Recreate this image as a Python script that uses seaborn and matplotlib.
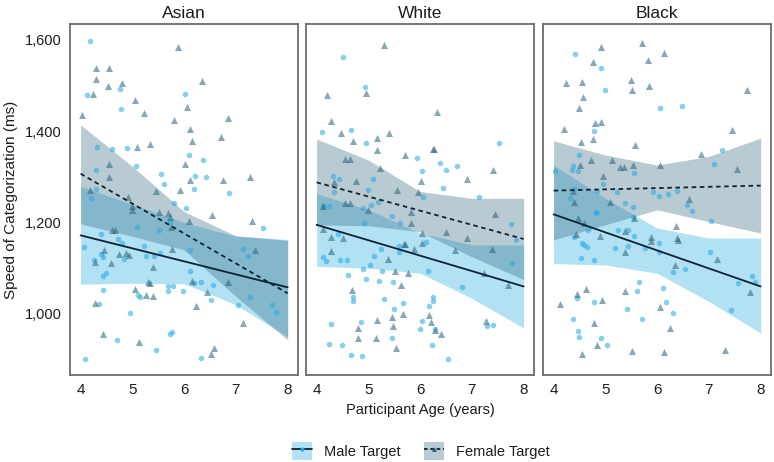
import pandas as pd
import matplotlib
matplotlib.use("Agg")
import matplotlib.pyplot as plt
from matplotlib import font_manager
from matplotlib.patches import Patch
from matplotlib.lines import Line2D
from matplotlib.ticker import FuncFormatter
import seaborn as sns

# ---- data (age in years, speed in ms) ----
panels = ["Asian", "White", "Black"]

asian_male_age = [4.18, 4.13, 4.76, 4.78, 4.31, 4.60, 4.89, 5.07, 4.29, 5.55, 5.62, 4.30, 4.20, 6.01, 6.09,
                  6.36, 6.21, 6.43, 6.20, 6.87, 6.03, 5.80, 5.08, 5.51, 5.72, 7.52, 4.39, 4.73, 4.80, 4.07,
                  4.26, 4.39, 4.43, 4.49, 4.44, 4.44, 4.36, 4.84, 4.95, 5.11, 5.15, 5.23, 5.26, 5.42, 5.54,
                  4.71, 4.09, 5.46, 5.68, 5.69, 5.79, 5.73, 5.76, 5.98, 6.11, 6.12, 6.32, 6.19, 6.56, 6.51,
                  6.32, 7.04, 7.14, 7.23, 7.28, 7.70, 7.77]
asian_male_ms = [1597, 1480, 1492, 1449, 1366, 1362, 1364, 1323, 1315, 1307, 1285, 1274, 1254, 1482, 1348,
                 1337, 1301, 1300, 1273, 1264, 1231, 1242, 1191, 1184, 1202, 1188, 1175, 1165, 1156, 1147,
                 1117, 1131, 1124, 1089, 1082, 1052, 1022, 1121, 1001, 1041, 1036, 1149, 1127, 1126, 1133,
                 943, 902, 920, 1061, 1050, 1061, 955, 961, 1049, 1094, 1140, 1069, 1067, 1064, 1030,
                 904, 1020, 1143, 1126, 1036, 1020, 1004]
asian_female_age = [4.02, 4.23, 4.30, 4.29, 4.55, 4.52, 4.79, 5.05, 5.22, 5.09, 5.35, 5.89, 6.34, 6.05, 5.81,
                    6.12, 6.15, 6.85, 6.71, 6.02, 6.12, 5.92, 6.76, 7.28, 4.54, 4.55, 4.19, 5.45, 4.92, 4.99,
                    5.00, 5.51, 5.69, 5.72, 6.09, 6.53, 7.32, 5.74, 4.60, 4.66, 4.28, 4.46, 4.59, 4.75, 4.87,
                    4.93, 5.40, 5.77, 4.28, 5.05, 5.26, 5.31, 5.35, 5.40, 4.44, 5.13, 6.16, 6.23, 6.45, 6.84,
                    7.37, 7.14, 6.57, 6.51]
asian_female_ms = [1436, 1481, 1538, 1515, 1538, 1499, 1506, 1469, 1441, 1366, 1371, 1584, 1510, 1454, 1425,
                   1406, 1379, 1428, 1388, 1328, 1293, 1272, 1294, 1299, 1328, 1300, 1272, 1270, 1255, 1237,
                   1228, 1223, 1220, 1212, 1204, 1216, 1203, 1191, 1184, 1184, 1113, 1139, 1112, 1131, 1133,
                   1130, 1102, 1143, 1024, 1055, 1042, 1069, 1067, 1038, 956, 938, 1071, 1018, 1048, 1070,
                   1140, 981, 925, 913]

white_male_age = [4.51, 4.94, 4.11, 4.67, 4.95, 7.53, 5.94, 6.03, 6.39, 6.50, 6.71, 6.45, 7.13, 4.32, 4.44,
                  4.34, 5.08, 5.00, 5.18, 5.06, 4.90, 6.05, 5.45, 5.61, 4.92, 4.13, 4.24, 7.76, 7.85, 4.42,
                  4.13, 4.19, 4.46, 4.58, 5.10, 5.04, 5.25, 5.60, 5.59, 6.11, 4.89, 5.27, 4.60, 4.96, 5.21,
                  5.48, 6.16, 6.81, 7.77, 4.71, 4.71, 5.30, 5.67, 5.50, 6.25, 6.25, 6.17, 6.04, 5.99, 4.85,
                  4.28, 4.23, 4.50, 4.67, 4.87, 5.46, 6.22, 6.54, 6.28, 7.30, 7.40]
white_male_ms = [1562, 1496, 1399, 1403, 1375, 1374, 1342, 1312, 1331, 1315, 1323, 1275, 1256, 1302, 1296,
                 1267, 1296, 1272, 1246, 1239, 1232, 1255, 1215, 1199, 1199, 1236, 1236, 1197, 1162, 1175,
                 1125, 1116, 1118, 1118, 1126, 1107, 1142, 1149, 1136, 1157, 1099, 1093, 1084, 1076, 1072,
                 1069, 1093, 1058, 1112, 1036, 1028, 1032, 1024, 1010, 1036, 1028, 1018, 985, 967, 982,
                 977, 934, 932, 909, 907, 946, 932, 900, 967, 973, 975]
white_female_age = [5.30, 4.20, 4.96, 4.28, 4.47, 4.70, 5.16, 5.17, 5.39, 6.32, 4.55, 4.65, 5.22, 5.71, 6.25,
                    6.27, 6.02, 6.91, 7.40, 4.34, 4.77, 5.55, 5.95, 4.13, 4.55, 4.65, 4.99, 5.82, 5.82, 7.45,
                    4.13, 4.28, 4.51, 6.04, 6.50, 6.90, 5.69, 4.28, 5.38, 5.70, 5.89, 6.04, 6.68, 7.39, 5.52,
                    5.77, 5.64, 4.69, 7.24, 7.69, 5.16, 5.46, 5.67, 6.18, 6.21, 5.48, 4.80, 6.28, 6.41, 4.80,
                    5.15, 5.53, 7.27]
white_female_ms = [1588, 1480, 1483, 1423, 1396, 1379, 1385, 1358, 1396, 1442, 1339, 1339, 1319, 1347, 1361,
                   1361, 1290, 1296, 1315, 1288, 1292, 1272, 1267, 1236, 1242, 1242, 1227, 1223, 1200, 1218,
                   1186, 1169, 1166, 1177, 1179, 1166, 1153, 1137, 1121, 1152, 1143, 1155, 1139, 1143, 1093,
                   1089, 1063, 1053, 1090, 1063, 986, 993, 1000, 997, 983, 973, 970, 965, 956, 946,
                   946, 926, 984]

black_male_age = [4.42, 4.91, 5.00, 6.06, 6.48, 4.78, 7.26, 7.10, 4.50, 4.37, 4.35, 4.47, 4.03, 5.56, 4.95,
                  4.84, 5.22, 5.92, 6.03, 6.21, 6.39, 4.39, 4.32, 6.58, 6.68, 5.38, 5.54, 4.82, 4.81, 5.53,
                  7.04, 4.66, 5.25, 5.43, 5.56, 4.40, 4.54, 4.58, 5.18, 5.43, 6.03, 4.64, 4.53, 4.78, 5.76,
                  6.04, 6.30, 6.53, 7.03, 7.83, 7.56, 7.43, 5.65, 5.62, 6.12, 6.17, 6.31, 5.41, 5.71, 4.78,
                  4.46, 4.37, 4.48, 4.50, 4.91, 5.04, 7.90]
black_male_ms = [1569, 1539, 1491, 1450, 1455, 1400, 1360, 1328, 1348, 1323, 1316, 1314, 1314, 1309, 1284,
                 1270, 1267, 1267, 1259, 1263, 1270, 1274, 1253, 1239, 1226, 1242, 1235, 1223, 1220, 1212,
                 1204, 1184, 1184, 1183, 1171, 1168, 1156, 1150, 1145, 1149, 1155, 1147, 1122, 1117, 1144,
                 1136, 1092, 1099, 1136, 1083, 1067, 1008, 1070, 1049, 1056, 1026, 1002, 1010, 989, 1025,
                 1035, 989, 963, 950, 946, 932, 1069]
black_female_age = [4.91, 5.70, 6.14, 4.77, 5.83, 4.23, 4.55, 5.50, 5.52, 5.84, 7.73, 4.57, 4.49, 4.79, 4.91,
                    4.21, 7.44, 4.77, 4.53, 5.58, 6.85, 4.73, 5.12, 4.51, 5.29, 5.36, 5.54, 6.06, 7.55, 4.95,
                    4.37, 4.39, 5.09, 6.61, 4.48, 4.59, 5.56, 6.36, 4.44, 4.89, 5.38, 5.89, 5.89, 6.38, 6.40,
                    5.37, 6.35, 7.16, 7.79, 4.12, 4.46, 4.62, 4.94, 5.38, 6.06, 4.78, 6.24, 4.84, 4.55, 5.52,
                    6.14, 7.31]
black_female_ms = [1585, 1594, 1571, 1551, 1556, 1506, 1508, 1513, 1491, 1500, 1491, 1476, 1452, 1418, 1420,
                   1404, 1403, 1382, 1377, 1369, 1350, 1337, 1337, 1326, 1321, 1321, 1325, 1326, 1318, 1303,
                   1269, 1245, 1245, 1252, 1210, 1199, 1209, 1193, 1175, 1171, 1181, 1168, 1160, 1166, 1162,
                   1136, 1106, 1121, 1048, 1022, 1044, 1054, 1031, 1050, 1015, 980, 969, 932, 913, 919,
                   917, 920]

# fitted lines (value at age 4 and age 8)
fit_ends = [4, 8]
male_fit = {"Asian": [1172, 1058], "White": [1195, 1060], "Black": [1218, 1060]}
female_fit = {"Asian": [1307, 1045], "White": [1288, 1164], "Black": [1270, 1281]}

# confidence bands at ages 4..8
band_ages = [4, 5, 6, 7, 8]
male_hi = {"Asian": [1279, 1240, 1200, 1170, 1163],
           "White": [1263, 1228, 1177, 1151, 1151],
           "Black": [1326, 1253, 1188, 1166, 1166]}
male_lo = {"Asian": [1065, 1067, 1066, 1020, 950],
           "White": [1104, 1100, 1089, 1034, 969],
           "Black": [1110, 1107, 1089, 1027, 958]}
female_hi = {"Asian": [1414, 1323, 1224, 1171, 1161],
             "White": [1383, 1337, 1268, 1253, 1253],
             "Black": [1379, 1348, 1326, 1345, 1385]}
female_lo = {"Asian": [1197, 1170, 1140, 1038, 943],
             "White": [1195, 1193, 1180, 1125, 1075],
             "Black": [1162, 1195, 1228, 1202, 1177]}

points = {
    "Asian": (asian_male_age, asian_male_ms, asian_female_age, asian_female_ms),
    "White": (white_male_age, white_male_ms, white_female_age, white_female_ms),
    "Black": (black_male_age, black_male_ms, black_female_age, black_female_ms),
}

# ---- styling ----
sns.set_style("white")
installed = {f.name for f in font_manager.fontManager.ttflist}
narrow = [f for f in ["Liberation Sans Narrow", "DejaVu Sans Condensed", "Liberation Sans"] if f in installed]
plt.rcParams["font.family"] = narrow + ["DejaVu Sans"]

male_col = "#23A9E2"
female_col = "#296279"
line_col = "#0e2232"
frame_col = "#6b6b6b"
text_col = "#1c1c1c"

fig = plt.figure(figsize=(7.74, 4.62), dpi=100)
lefts = [70 / 774, 306 / 774, 543 / 774]
bottom = 1 - 375 / 462
height = (375 - 24) / 462
width = 228 / 774
mid_x = (70 + 771) / 2 / 774   # centre of the three panels

for i, name in enumerate(panels):
    ax = fig.add_axes([lefts[i], bottom, width, height])
    m_age, m_ms, f_age, f_ms = points[name]

    ax.fill_between(band_ages, male_lo[name], male_hi[name], color=male_col, alpha=0.35, lw=0, zorder=1)
    ax.fill_between(band_ages, female_lo[name], female_hi[name], color=female_col, alpha=0.33, lw=0, zorder=1)

    dm = pd.DataFrame({"age": m_age, "ms": m_ms})
    df = pd.DataFrame({"age": f_age, "ms": f_ms})
    sns.scatterplot(data=dm, x="age", y="ms", ax=ax, marker="o", s=16, color=male_col,
                    alpha=0.55, linewidth=0, zorder=2)
    sns.scatterplot(data=df, x="age", y="ms", ax=ax, marker="^", s=26, color=female_col,
                    alpha=0.55, linewidth=0, zorder=2)

    sns.lineplot(x=fit_ends, y=male_fit[name], ax=ax, color=line_col, lw=1.3, zorder=3)
    sns.lineplot(x=fit_ends, y=female_fit[name], ax=ax, color=line_col, lw=1.3,
                 linestyle=(0, (2.5, 2)), zorder=3)

    ax.set_xlim(3.795, 8.2)
    ax.set_ylim(866, 1635)
    ax.set_xticks([4, 5, 6, 7, 8])
    ax.set_xlabel("")
    ax.set_ylabel("")
    ax.set_title(name, fontsize=12.5, color=text_col, pad=4)
    for sp in ax.spines.values():
        sp.set_color(frame_col)
        sp.set_linewidth(1.3)
    ax.tick_params(axis="x", length=4, width=1, color=frame_col, labelsize=11,
                   labelcolor=text_col, pad=2)
    if i == 0:
        ax.set_yticks([1000, 1200, 1400, 1600])
        ax.yaxis.set_major_formatter(FuncFormatter(lambda v, p: f"{v:,.0f}"))
        ax.tick_params(axis="y", length=4, width=1, color=frame_col, labelsize=10.5,
                       labelcolor=text_col, pad=2)
        ax.set_ylabel("Speed of Categorization (ms)", fontsize=11, color=text_col, labelpad=5)
    else:
        ax.set_yticks([])

fig.text(mid_x, 1 - 410 / 462, "Participant Age (years)", ha="center", va="center",
         fontsize=10.5, color=text_col)

handles = [
    (Patch(facecolor=male_col, alpha=0.35, lw=0),
     Line2D([], [], color=line_col, lw=1.3, marker="o", markersize=3,
            markerfacecolor=male_col, markeredgewidth=0)),
    (Patch(facecolor=female_col, alpha=0.33, lw=0),
     Line2D([], [], color=line_col, lw=1.3, linestyle=(0, (2, 1.5)), marker="^", markersize=3.5,
            markerfacecolor=female_col, markeredgewidth=0)),
]
fig.legend(handles, ["Male Target", "Female Target"], loc="center", bbox_to_anchor=(mid_x, 1 - 451 / 462),
           ncol=2, frameon=False, fontsize=10.5, handlelength=1.4, handleheight=1.6,
           columnspacing=1.6, handletextpad=0.8, labelcolor=text_col)

fig.savefig("out.png", dpi=100)
